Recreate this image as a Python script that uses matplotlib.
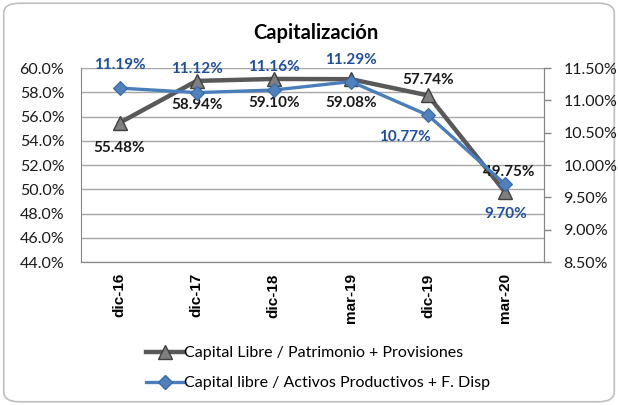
import matplotlib
matplotlib.use("Agg")
import matplotlib.pyplot as plt
from matplotlib.patches import FancyBboxPatch
from matplotlib.lines import Line2D
from matplotlib.ticker import FuncFormatter, MultipleLocator

# datos
periodos = ["dic-16", "dic-17", "dic-18", "mar-19", "dic-19", "mar-20"]
cap_patrimonio = [55.48, 58.94, 59.10, 59.08, 57.74, 49.75]
cap_activos = [11.19, 11.12, 11.16, 11.29, 10.77, 9.70]

# desplazamiento de etiquetas (pixeles)
off_patrimonio = [(0, -25), (0, -24), (0, -24), (0, -24), (0, 15), (3, 20)]
off_activos = [(0, 23), (0, 24), (0, 23), (0, 22), (-23, -22), (0, -30)]

GRIS = "#595959"
AZUL = "#4a7ebb"
AZUL_TXT = "#1f4fa0"
FUENTE = ["Lato", "DejaVu Sans"]

plt.rcParams["font.family"] = FUENTE

fig = plt.figure(figsize=(6.18, 4.05), dpi=100)
fig.patches.append(FancyBboxPatch((0.006, 0.008), 0.988, 0.984, boxstyle="round,pad=0,rounding_size=0.025",
                                  transform=fig.transFigure, fc="white", ec="#bfbfbf", lw=1.2, zorder=-1))

ax = fig.add_axes([0.131, 0.353, 0.749, 0.479])
ax2 = ax.twinx()
x = list(range(len(periodos)))

ax.plot(x, cap_patrimonio, color=GRIS, lw=3.2, marker="^", ms=10, mfc="#7f7f7f", mec="#404040", mew=1, zorder=3)
ax2.plot(x, cap_activos, color=AZUL, lw=2.4, marker="D", ms=7, mfc="#4f81bd", mec="#3a6aa5", mew=0.8, zorder=4)

for xi, v, (dx, dy) in zip(x, cap_patrimonio, off_patrimonio):
    ax.annotate(f"{v:.2f}%", (xi, v), xytext=(dx, dy), textcoords="offset pixels", ha="center", va="center",
                fontsize=11, fontweight="bold", color="#1a1a1a")
for xi, v, (dx, dy) in zip(x, cap_activos, off_activos):
    ax2.annotate(f"{v:.2f}%", (xi, v), xytext=(dx, dy), textcoords="offset pixels", ha="center", va="center",
                 fontsize=11, fontweight="bold", color=AZUL_TXT)

ax.set_xlim(-0.5, len(periodos) - 0.5)
ax.set_ylim(44, 60)
ax2.set_ylim(8.5, 11.5)
ax.yaxis.set_major_locator(MultipleLocator(2))
ax2.yaxis.set_major_locator(MultipleLocator(0.5))
ax.yaxis.set_major_formatter(FuncFormatter(lambda v, p: f"{v:.1f}%"))
ax2.yaxis.set_major_formatter(FuncFormatter(lambda v, p: f"{v:.2f}%"))
ax.grid(axis="y", color="#a6a6a6", lw=1)
ax.set_axisbelow(True)

ax.set_xticks(x)
ax.set_xticklabels(periodos, rotation=90, fontsize=11, fontweight="bold", family="Liberation Sans")
ax.tick_params(axis="x", length=0, pad=8)
ax.tick_params(axis="y", length=0, labelsize=11.5, pad=12, colors="#1a1a1a")
ax2.tick_params(axis="y", length=5, width=1, color="#868686", labelsize=11.5, pad=9, labelcolor="#1a1a1a")

for a in (ax, ax2):
    a.spines["top"].set_visible(False)
    for s in ("left", "right", "bottom"):
        a.spines[s].set_color("#868686")
ax2.spines["left"].set_visible(False)

fig.text(0.511, 0.918, "Capitalización", ha="center", va="center", fontsize=14.5, fontweight="bold")

handles = [
    Line2D([], [], color=GRIS, lw=3.2, marker="^", ms=10, mfc="#7f7f7f", mec="#404040"),
    Line2D([], [], color=AZUL, lw=2.4, marker="D", ms=7, mfc="#4f81bd", mec="#3a6aa5"),
]
fig.legend(handles, ["Capital Libre / Patrimonio + Provisiones", "Capital libre / Activos Productivos + F. Disp"],
           loc="center", bbox_to_anchor=(0.515, 0.091), frameon=False, fontsize=11.5, handlelength=2.3,
           handletextpad=0.05, labelspacing=1.0)

fig.savefig("out.png", dpi=100)
